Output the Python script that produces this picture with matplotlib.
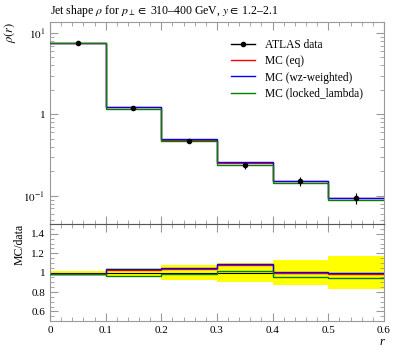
import numpy as np
import matplotlib
matplotlib.use("Agg")
import matplotlib.pyplot as plt
from matplotlib.ticker import MultipleLocator, FixedLocator, FixedFormatter
from matplotlib.lines import Line2D

plt.rcParams['font.family'] = ['Liberation Serif', 'DejaVu Serif']
plt.rcParams['mathtext.fontset'] = 'stix'

edges = [0.0, 0.1, 0.2, 0.3, 0.4, 0.5, 0.6]
data = [7.5, 1.20, 0.47, 0.237, 0.152, 0.094]
data_err = [0.15, 0.03, 0.03, 0.025, 0.02, 0.015]
ratio_eq = [0.99, 1.03, 1.04, 1.08, 1.00, 0.99]
ratio_wz = [0.99, 1.04, 1.05, 1.09, 1.01, 1.00]
ratio_ll = [0.99, 0.97, 0.99, 1.02, 0.95, 0.94]
band = [0.02, 0.05, 0.08, 0.10, 0.13, 0.17]
labels = ['ATLAS data', 'MC (eq)', 'MC (wz-weighted)', 'MC (locked_lambda)']

edges = np.array(edges)
data = np.array(data)
centers = 0.5 * (edges[:-1] + edges[1:])
mc_eq = data * np.array(ratio_eq)
mc_wz = data * np.array(ratio_wz)
mc_ll = data * np.array(ratio_ll)

fig = plt.figure(figsize=(3.97, 3.58), dpi=100)
ax = fig.add_axes([0.126, 0.374, 0.841, 0.5645])
rx = fig.add_axes([0.126, 0.103, 0.841, 0.271], sharex=ax)

def step(a, y, **kw):
    a.stairs(y, edges, baseline=None, **kw)

step(ax, mc_eq, color='red', lw=1.0, zorder=3)
step(ax, mc_wz, color='blue', lw=1.0, zorder=3)
step(ax, mc_ll, color='green', lw=1.0, zorder=3)
ax.errorbar(centers, data, yerr=data_err, fmt='o', color='black', ms=3,
            lw=0.8, capsize=0, zorder=4)
ax.set_yscale('log')
ax.set_ylim(0.045, 13.6)
ax.set_xlim(0, 0.6)
ax.yaxis.set_major_locator(FixedLocator([0.1, 1, 10]))
ax.yaxis.set_major_formatter(FixedFormatter([r'$10^{-1}$', '1', r'$10^{1}$']))

hs = [Line2D([], [], color='black', marker='o', ms=3, lw=1),
      Line2D([], [], color='red', lw=1),
      Line2D([], [], color='blue', lw=1),
      Line2D([], [], color='green', lw=1)]
ax.legend(hs, labels, loc='upper left',
          bbox_to_anchor=(0.51, 0.965), frameon=False, fontsize=8.3,
          handlelength=2.1, labelspacing=0.35, handletextpad=0.9)

ax.set_title(r'Jet shape $\rho$ for $p_\perp \in$ 310–400 GeV, $y \in$ 1.2–2.1',
             fontsize=8.5, loc='left', pad=6)
ax.set_ylabel(r'$\rho(r)$', fontsize=9, loc='top')

# ratio
lo = 1 - np.array(band)
hi = 1 + np.array(band)
rx.stairs(hi, edges, baseline=lo, fill=True, color='yellow', lw=0, zorder=1)
step(rx, np.ones(6), color='black', lw=0.8, zorder=2)
step(rx, ratio_eq, color='red', lw=1.0, zorder=3)
step(rx, ratio_wz, color='blue', lw=1.0, zorder=3)
step(rx, ratio_ll, color='green', lw=1.0, zorder=3)
rx.set_ylim(0.5, 1.5)
rx.yaxis.set_major_locator(FixedLocator([0.6, 0.8, 1.0, 1.2, 1.4]))
rx.yaxis.set_major_formatter(FixedFormatter(['0.6', '0.8', '1', '1.2', '1.4']))
rx.yaxis.set_minor_locator(MultipleLocator(0.05))
rx.set_ylabel('MC/data', fontsize=8.5, loc='top')
rx.set_xlabel('r', fontsize=9, loc='right', style='italic', labelpad=1)

rx.xaxis.set_major_locator(FixedLocator([0, 0.1, 0.2, 0.3, 0.4, 0.5, 0.6]))
rx.xaxis.set_major_formatter(FixedFormatter(['0', '0.1', '0.2', '0.3', '0.4', '0.5', '0.6']))
rx.xaxis.set_minor_locator(MultipleLocator(0.02))
plt.setp(ax.get_xticklabels(), visible=False)

for a in (ax, rx):
    a.tick_params(which='both', direction='in', top=True, right=True,
                  color='#999999', labelsize=8)
    a.tick_params(which='major', length=6)
    a.tick_params(which='minor', length=3)
    for s in a.spines.values():
        s.set_color('#999999')
        s.set_linewidth(0.8)
rx.spines['top'].set_color('#555555')

fig.savefig('out.png', dpi=100)
